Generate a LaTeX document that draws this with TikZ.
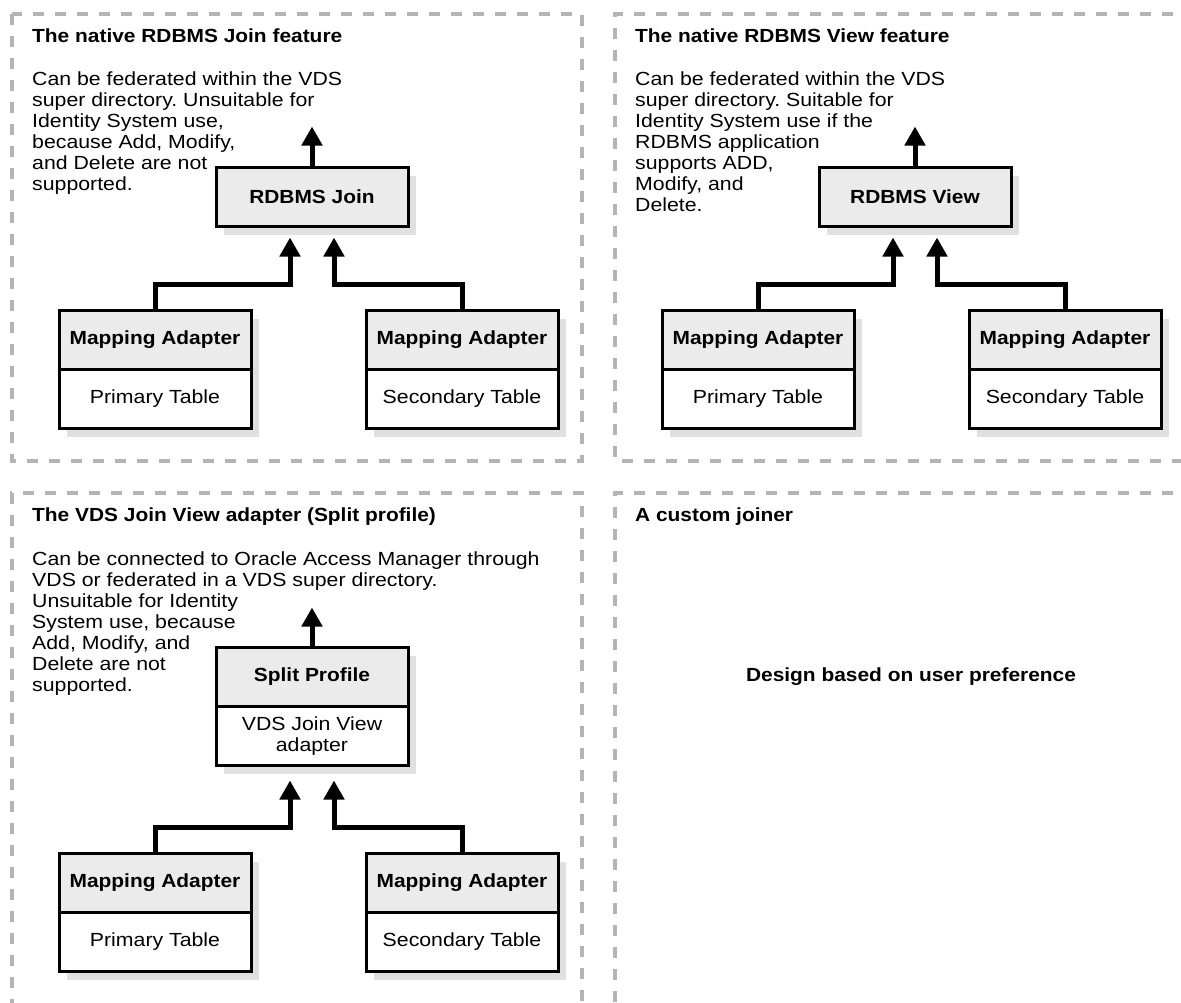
\documentclass[tikz,border=0pt]{standalone}
\usepackage{fontspec}
\setmainfont{Liberation Sans}[FakeStretch=1.12,BoldFeatures={FakeStretch=1.1}]
\usetikzlibrary{positioning,arrows.meta,shadows}
\definecolor{zonegray}{HTML}{B4B4B4}
\definecolor{boxgray}{HTML}{EBEBEB}
\definecolor{shadegray}{HTML}{E0E0E0}
\frenchspacing

\begin{document}
\begin{tikzpicture}[x=1pt,y=-1pt,
  zone/.style={draw=zonegray,line width=4pt,dash pattern=on 11pt off 11pt},
  heading/.style={font=\fontsize{19}{21}\selectfont\bfseries,inner sep=0pt,anchor=base west},
  blurb/.style={font=\fontsize{19}{21}\selectfont,inner sep=0pt,anchor=base west,align=left},
  cell/.style={draw,line width=3pt,minimum width=192pt,minimum height=59pt,outer sep=0pt,
    inner sep=2pt,align=center,drop shadow={shadow xshift=8pt,shadow yshift=-8pt,fill=shadegray,opacity=1}},
  headcell/.style={cell,fill=boxgray,font=\fontsize{19}{21}\selectfont\bfseries},
  bodycell/.style={cell,fill=white,font=\fontsize{19}{21}\selectfont},
  flow/.style={line width=5pt,-{Triangle[length=19pt,width=20pt]}}]
\useasboundingbox (0,0) rectangle (1181,1002);

% native join (blurb sits on its last baseline)
\draw[zone] (12,14) rectangle (582,461);
\node[heading] (h1) at (32,42) {The native RDBMS Join feature};
\node[blurb] (b1) at (32,190) {Can be federated within the VDS\\super directory. Unsuitable for\\Identity System use,\\because Add, Modify,\\and Delete are not\\supported.};
\node[headcell] (join) at (312,197) {RDBMS Join};
\node[headcell] (mapA) at (155,340) {Mapping Adapter};
\node[bodycell,below=0pt of mapA] (tabA) {Primary Table};
\node[headcell] (mapB) at (462,340) {Mapping Adapter};
\node[bodycell,below=0pt of mapB] (tabB) {Secondary Table};
\coordinate[above=41pt of join.north] (outJ);
\draw[flow] (join.north) -- (outJ);
\draw[flow] (mapA.north) |- ([xshift=-22pt,yshift=-58pt]join.south) -- ([xshift=-22pt,yshift=-11pt]join.south);
\draw[flow] (mapB.north) |- ([xshift=22pt,yshift=-58pt]join.south) -- ([xshift=22pt,yshift=-11pt]join.south);

% native view
\draw[zone] (1195,14) -- (615,14) -- (615,461) -- (1195,461);
\node[heading] (h2) at (635,42) {The native RDBMS View feature};
\node[blurb] (b2) at (635,211) {Can be federated within the VDS\\super directory. Suitable for\\Identity System use if the\\RDBMS application\\supports ADD,\\Modify, and\\Delete.};
\node[headcell] (view) at (915,197) {RDBMS View};
\node[headcell] (mapC) at (758,340) {Mapping Adapter};
\node[bodycell,below=0pt of mapC] (tabC) {Primary Table};
\node[headcell] (mapD) at (1065,340) {Mapping Adapter};
\node[bodycell,below=0pt of mapD] (tabD) {Secondary Table};
\coordinate[above=41pt of view.north] (outV);
\draw[flow] (view.north) -- (outV);
\draw[flow] (mapC.north) |- ([xshift=-22pt,yshift=-58pt]view.south) -- ([xshift=-22pt,yshift=-11pt]view.south);
\draw[flow] (mapD.north) |- ([xshift=22pt,yshift=-58pt]view.south) -- ([xshift=22pt,yshift=-11pt]view.south);

% join view adapter
\draw[zone] (12,1010) -- (12,493) -- (582,493) -- (582,1010);
\node[heading] (h3) at (32,521) {The VDS Join View adapter (Split profile)};
\node[blurb] (b3) at (32,691) {Can be connected to Oracle Access Manager through\\VDS or federated in a VDS super directory.\\Unsuitable for Identity\\System use, because\\Add, Modify, and\\Delete are not\\supported.};
\node[headcell] (split) at (312,677) {Split Profile};
\node[bodycell,below=0pt of split] (jva) {VDS Join View\\adapter};
\node[headcell] (mapE) at (155,883) {Mapping Adapter};
\node[bodycell,below=0pt of mapE] (tabE) {Primary Table};
\node[headcell] (mapF) at (462,883) {Mapping Adapter};
\node[bodycell,below=0pt of mapF] (tabF) {Secondary Table};
\coordinate[above=40pt of split.north] (outS);
\draw[flow] (split.north) -- (outS);
\draw[flow] (mapE.north) |- ([xshift=-22pt,yshift=-62pt]jva.south) -- ([xshift=-22pt,yshift=-15pt]jva.south);
\draw[flow] (mapF.north) |- ([xshift=22pt,yshift=-62pt]jva.south) -- ([xshift=22pt,yshift=-15pt]jva.south);

% custom joiner
\draw[zone] (1195,493) -- (615,493) -- (615,1010);
\node[heading] (h4) at (635,521) {A custom joiner};
\node[font=\fontsize{19}{21}\selectfont\bfseries] (pref) at (911,677) {Design based on user preference};

\end{tikzpicture}
\end{document}
